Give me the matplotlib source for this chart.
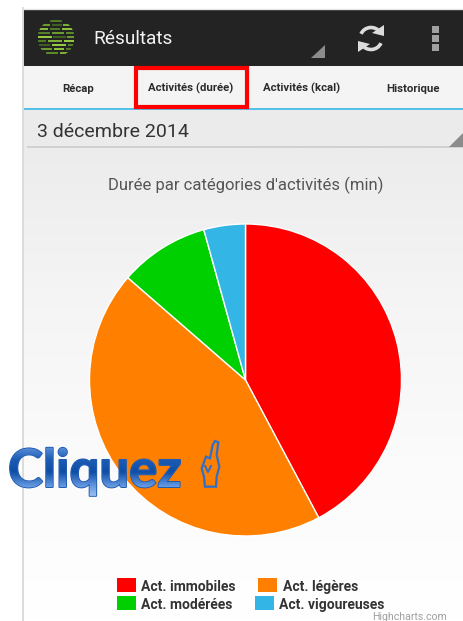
import numpy as np
import matplotlib
matplotlib.use("Agg")
import matplotlib.pyplot as plt
import matplotlib.patheffects as pe
from matplotlib.colors import LinearSegmentedColormap
from matplotlib.font_manager import FontProperties
from matplotlib.patches import Rectangle, Polygon, Circle, Arc, PathPatch
from matplotlib.textpath import TextPath
from matplotlib.transforms import Affine2D, IdentityTransform

# -----------------------------
# DATA
# -----------------------------
categories = ["Act. immobiles", "Act. légères", "Act. modérées", "Act. vigoureuses"]
minutes = [608, 636, 134, 62]
colors = ["#ff0000", "#ff8000", "#00d000", "#33b5e5"]
tabs = ["Récap", "Activités (durée)", "Activités (kcal)", "Historique"]

W, H = 463, 621
plt.rcParams["font.family"] = ["Roboto", "DejaVu Sans"]
fig = plt.figure(figsize=(W / 100, H / 100), dpi=100, facecolor="white")


def px_axes(zorder):
    ax = fig.add_axes([0, 0, 1, 1], zorder=zorder)
    ax.set_xlim(0, W)
    ax.set_ylim(H, 0)
    ax.axis("off")
    ax.patch.set_alpha(0)
    return ax


# -----------------------------
# APP BACKGROUND
# -----------------------------
bg = px_axes(0)
grad = np.linspace(0, 1, 256).reshape(-1, 1)
bg_cmap = LinearSegmentedColormap.from_list("bg", ["#ececec", "#f5f5f5", "#fbfbfb", "#ffffff"])
bg.imshow(grad, extent=[23, W, H, 148], cmap=bg_cmap, aspect="auto", zorder=0)
bg.set_xlim(0, W)
bg.set_ylim(H, 0)
bg.add_patch(Rectangle((23, 10), W - 23, 56, fc="#232323", ec="none", zorder=1))
bg.add_patch(Rectangle((23, 66), W - 23, 42, fc="#f4f4f4", ec="none", zorder=1))
bg.add_patch(Rectangle((23, 110), W - 23, 38, fc="#ebebeb", ec="none", zorder=1))
bg.plot([23, W], [108.5, 108.5], color="#33b5e5", lw=1.2, zorder=2)
bg.plot([28, W], [147, 147], color="#cccccc", lw=1.2, zorder=2)
bg.plot([22.5, 22.5], [8, H], color="#dcdcdc", lw=1.4, zorder=2)
bg.plot([22, W], [9, 9], color="#e4e4e4", lw=1, zorder=2)

# logo, green blocks cut to a disc
clip = Circle((56, 38), 18.5, transform=bg.transData)
logo_rows = [
    (21, [(50, 62, "#4f7a24")]),
    (25, [(42, 50, "#6d9a2e"), (52, 62, "#3f5f20"), (63, 70, "#7fae35")]),
    (29, [(38, 48, "#86b83a"), (50, 60, "#4f7a24"), (62, 74, "#8fc03c")]),
    (33, [(38, 50, "#55802a"), (52, 64, "#6d9a2e"), (66, 74, "#5c8a2a")]),
    (37, [(38, 52, "#94c83e"), (53, 66, "#3f5f20"), (67, 74, "#6d9a2e")]),
    (41, [(38, 46, "#4f7a24"), (48, 62, "#7fae35"), (64, 74, "#94c83e")]),
    (45, [(38, 50, "#3f5f20"), (52, 66, "#94c83e"), (68, 74, "#55802a")]),
    (49, [(40, 52, "#6d9a2e"), (54, 64, "#8fc03c"), (66, 72, "#4f7a24")]),
    (53, [(46, 58, "#5c8a2a"), (60, 68, "#7fae35")]),
]
for y, blocks in logo_rows:
    for x0, x1, c in blocks:
        block = Rectangle((x0, y - 1.4), x1 - x0, 2.8, fc=c, ec="none", zorder=3)
        bg.add_patch(block)
        block.set_clip_path(clip)
bg.text(93, 39.5, "Résultats", color="#f2f2f2", fontsize=13.7, va="center", ha="left", zorder=3)
bg.add_patch(Polygon([[311, 58], [325, 58], [325, 45]], fc="#8c8c8c", ec="none", zorder=3))

# refresh icon
bg.add_patch(Arc((371, 38.5), 22, 22, theta1=205, theta2=325, color="#dcdcdc", lw=2.6, zorder=3))
bg.add_patch(Arc((371, 38.5), 22, 22, theta1=25, theta2=145, color="#dcdcdc", lw=2.6, zorder=3))
bg.add_patch(Polygon([[372, 33], [384, 25], [384, 36]], fc="#dcdcdc", ec="none", zorder=3))
bg.add_patch(Polygon([[370, 44], [358, 52], [358, 41]], fc="#dcdcdc", ec="none", zorder=3))

# overflow dots
for y in [29, 38, 47]:
    bg.add_patch(Rectangle((432, y - 3), 7, 6.5, fc="#a0a0a0", ec="none", zorder=3))

# tabs
for name, x in zip(tabs, [78.5, 190.5, 301.5, 413]):
    bg.text(x, 88.5, name, color="#2b2b2b", fontsize=8.2, fontweight="bold", ha="center", va="center", zorder=3)
bg.add_patch(Rectangle((136, 68), 111, 39, fc="none", ec="#ff0000", lw=3, zorder=4))

bg.text(37, 132, "3 décembre 2014", color="#333333", fontsize=14, ha="left", va="center", zorder=3)
bg.add_patch(Polygon([[449, 147], [W, 147], [W, 133]], fc="#8c8c8c", ec="none", zorder=3))

bg.text(245.5, 185.5, "Durée par catégories d'activités (min)", color="#555555", fontsize=12,
        ha="center", va="center", zorder=3)

# -----------------------------
# PIE
# -----------------------------
cx, cy, r = 245.5, 380, 156
pie_ax = fig.add_axes([(cx - r) / W, 1 - (cy + r) / H, 2 * r / W, 2 * r / H], zorder=1)
pie_ax.pie(minutes, colors=colors, startangle=90, counterclock=False, radius=1,
           wedgeprops={"edgecolor": "white", "linewidth": 1})
pie_ax.set_xlim(-1, 1)
pie_ax.set_ylim(-1, 1)

# -----------------------------
# LEGEND + OVERLAY
# -----------------------------
fg = px_axes(2)
swatch_x = [117, 258, 117, 255]
swatch_y = [578, 578, 596, 596]
text_x = [141, 283, 141, 279]
for i in range(len(categories)):
    fg.add_patch(Rectangle((swatch_x[i], swatch_y[i]), 18.5, 14, fc=colors[i], ec="none"))
    fg.text(text_x[i], swatch_y[i] + 9, categories[i], color="#333333", fontsize=10,
            fontweight="bold", ha="left", va="center")
fg.text(447, 617, "Highcharts.com", color="#a0a0a0", fontsize=7.6, ha="right", va="center")

# "Cliquez" as text, glossy gradient painted inside its outline
fs = 38
x0, base = 8, 487
fp = FontProperties(family="Lato", weight="bold")
fg.text(x0, base, "Cliquez", color="#3f78c8", fontsize=fs, fontproperties=None, family="Lato", fontweight="bold",
        ha="left", va="baseline", path_effects=[pe.withStroke(linewidth=1.4, foreground="#1f5ab0")])
tp = TextPath((0, 0), "Cliquez", size=fs * 100 / 72, prop=fp)
outline = PathPatch(tp, transform=Affine2D().translate(x0, H - base) + IdentityTransform(), fc="none", ec="none")
fg.add_patch(outline)
text_cmap = LinearSegmentedColormap.from_list(
    "txt", ["#5f92dc", "#1c5cb4", "#0f4ea6", "#5d92dc", "#a4c8f6"])
im = fg.imshow(np.linspace(0, 1, 64).reshape(-1, 1), extent=[0, 200, 498, 446], cmap=text_cmap,
               aspect="auto", zorder=3)
im.set_clip_path(outline)
fg.set_xlim(0, W)
fg.set_ylim(H, 0)

hand_zoom = [(75, 18), (85, 22), (80, 60), (88, 95), (80, 125), (78, 155), (45, 155), (42, 125),
             (35, 100), (48, 65), (60, 70), (68, 30)]
hand = [(190 + a / 3, 435 + b / 3) for a, b in hand_zoom]
fg.add_patch(Polygon(hand, closed=True, fc="none", ec="#2f6fc8", lw=1.6, zorder=4))
fg.plot([205, 208, 211], [466, 472, 466], color="#2f6fc8", lw=1.4, zorder=4)

fig.savefig("out.png", dpi=100)
